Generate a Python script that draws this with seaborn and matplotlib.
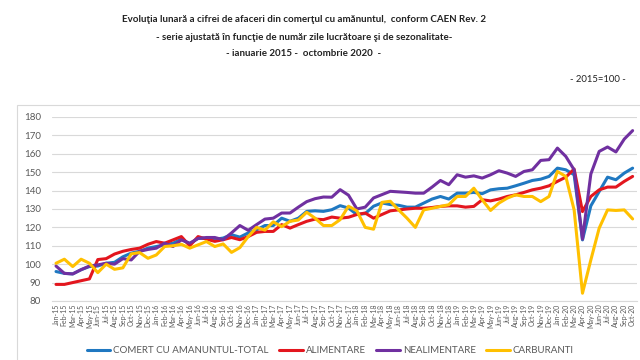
import matplotlib
matplotlib.use("Agg")
import pandas as pd
import matplotlib.pyplot as plt
import seaborn as sns
from matplotlib.patches import Rectangle

# month labels Jan-15 .. Oct-20
month_names = ["Jan", "Feb", "Mar", "Apr", "May", "Jun",
               "Jul", "Aug", "Sep", "Oct", "Nov", "Dec"]
months = [f"{m}-{y}" for y in range(15, 21) for m in month_names][:70]

total = [96, 95, 94.7, 97, 98.7, 99, 100.5, 101, 104, 106, 107, 108.7,
         109.6, 110.5, 111.4, 113.6, 111, 114, 114, 113.5, 114.2, 116, 114.7, 117,
         118.7, 121, 121, 125, 123.3, 125, 128.7, 129, 128.7, 129.6, 131.8, 130.5,
         127, 127.5, 131.5, 133.3, 132.4, 132, 131, 131, 133.2, 135.4, 136.8, 135.4,
         138.6, 138.6, 139, 138.3, 140.4, 141, 141.3, 142.6, 144, 145.5, 146.2, 147.7,
         152.2, 151.3, 148.6, 113.2, 131.7, 139.5, 147.3, 145.9, 149.5, 152.2]

alimentare = [89, 89, 90, 91, 92, 102.5, 103, 105.5, 107, 108, 108.7, 110.8,
              112.3, 111.4, 113.2, 115, 110, 115, 113.6, 112.4, 113.3, 114.5, 113.3, 115,
              117.3, 117.8, 117.8, 121.5, 119.6, 121.5, 123.3, 124.5, 124.2, 125.6, 125, 125.5,
              127, 127.8, 125, 127, 129, 129.5, 130, 130.4, 130.4, 130.8, 131.4, 131.7,
              131.7, 131, 131.4, 135, 134.4, 135.4, 136.8, 137.7, 139, 140.4, 141.3, 142.6,
              145, 147.3, 151.7, 128.6, 136.8, 140.4, 141.9, 141.9, 145, 147.7]

nealimentare = [99, 95, 94.7, 97, 99, 99.6, 100.5, 100, 103, 102.3, 107, 108,
                108.7, 111.4, 109.6, 113.2, 111.4, 114, 114.5, 114.5, 113.3, 117, 121, 118.4,
                121.5, 124.5, 125, 127.8, 127.8, 131, 134, 135.6, 136.5, 136.4, 140.5, 137.5,
                130, 131, 136, 137.8, 139.6, 139.3, 139, 138.6, 138.6, 141.9, 145.5, 143.2,
                148.6, 147.3, 148, 146.8, 148.6, 150.8, 149.5, 147.7, 150.4, 151.3, 156.4, 156.8,
                163.1, 158.6, 151.3, 113.6, 149, 161.3, 163.7, 161, 168, 172.6]

carburanti = [100.5, 102.7, 98.7, 102.7, 100.5, 95.4, 100, 97.2, 98, 105.6, 106.3, 103.2,
              105, 109.6, 110, 110.8, 108.7, 110.5, 112.3, 109.6, 111, 106.4, 109, 115,
              120, 118.5, 123, 120.4, 123.3, 124, 128.2, 125, 121, 121, 124.2, 131.5,
              129, 120, 119, 133.6, 134.2, 129.5, 125, 120, 129.5, 130.4, 131.4, 132.3,
              136.8, 136.8, 141.3, 135, 129.2, 133.2, 135.9, 137.7, 136.8, 136.8, 134, 136.8,
              150.4, 147.7, 129.5, 84.2, 102.3, 119.6, 129.5, 129.2, 129.5, 124.6]

series_names = ["COMERT CU AMANUNTUL-TOTAL", "ALIMENTARE", "NEALIMENTARE", "CARBURANTI"]
series_colors = ["#1F78C1", "#E3161E", "#7030A0", "#FFC000"]

frames = []
for name, vals in zip(series_names, [total, alimentare, nealimentare, carburanti]):
    frames.append(pd.DataFrame({"luna": range(len(vals)), "indice": vals, "serie": name}))
df = pd.concat(frames, ignore_index=True)

sns.set_theme(style="white")
plt.rcParams["font.family"] = ["Lato", "DejaVu Sans"]

fig = plt.figure(figsize=(6.4, 3.6), dpi=100)
ax = fig.add_axes([0.081, 0.164, 0.914, 0.511])

# chart area border
fig.patches.append(Rectangle((0.027, -0.1), 1.1, 0.808, transform=fig.transFigure,
                             fill=False, edgecolor="#D9D9D9", linewidth=0.8))

sns.lineplot(data=df, x="luna", y="indice", hue="serie", hue_order=series_names,
             palette=series_colors, linewidth=2.2, ax=ax)

handles, labels = ax.get_legend_handles_labels()
ax.get_legend().remove()
fig.legend(handles, labels, loc="center", bbox_to_anchor=(0.516, 0.026), ncol=4,
           frameon=False, fontsize=7, handlelength=2.4, handletextpad=0.3,
           columnspacing=1.1, labelcolor="#595959")

ax.set_xlim(-0.5, len(months) - 0.5)
ax.set_ylim(80, 180)
ax.set_yticks(range(80, 181, 10))
ax.set_xticks(range(len(months)))
ax.set_xticklabels(months, rotation=90, fontsize=5, color="#595959")
ax.set_xticks([i - 0.5 for i in range(len(months) + 1)], minor=True)
ax.tick_params(axis="x", which="major", length=0, pad=2)
ax.tick_params(axis="x", which="minor", length=3, color="#D9D9D9", width=0.6, direction="out")
ax.tick_params(axis="y", length=0, labelsize=7, labelcolor="#595959", pad=8)
ax.grid(axis="y", color="#D9D9D9", linewidth=0.8)
ax.set_axisbelow(True)
for side in ["left", "right", "top"]:
    ax.spines[side].set_visible(False)
ax.spines["bottom"].set_color("#D9D9D9")
ax.spines["bottom"].set_linewidth(0.8)
ax.set_xlabel("")
ax.set_ylabel("")

title_x = 0.475
fig.text(title_x, 0.947, "Evoluţia lunară a cifrei de afaceri din comerţul cu amănuntul,  conform CAEN Rev. 2",
         ha="center", va="center", fontsize=7, fontweight="bold", color="#222222")
fig.text(title_x, 0.897, "- serie ajustată în funcţie de număr zile lucrătoare şi de sezonalitate-",
         ha="center", va="center", fontsize=7, fontweight="bold", color="#222222")
fig.text(title_x, 0.851, "- ianuarie 2015 -  octombrie 2020  -",
         ha="center", va="center", fontsize=7, fontweight="bold", color="#222222")
fig.text(0.977, 0.78, "- 2015=100 -", ha="right", va="center", fontsize=6.8, color="#222222")

fig.savefig("out.png", dpi=100)
plt.close(fig)
